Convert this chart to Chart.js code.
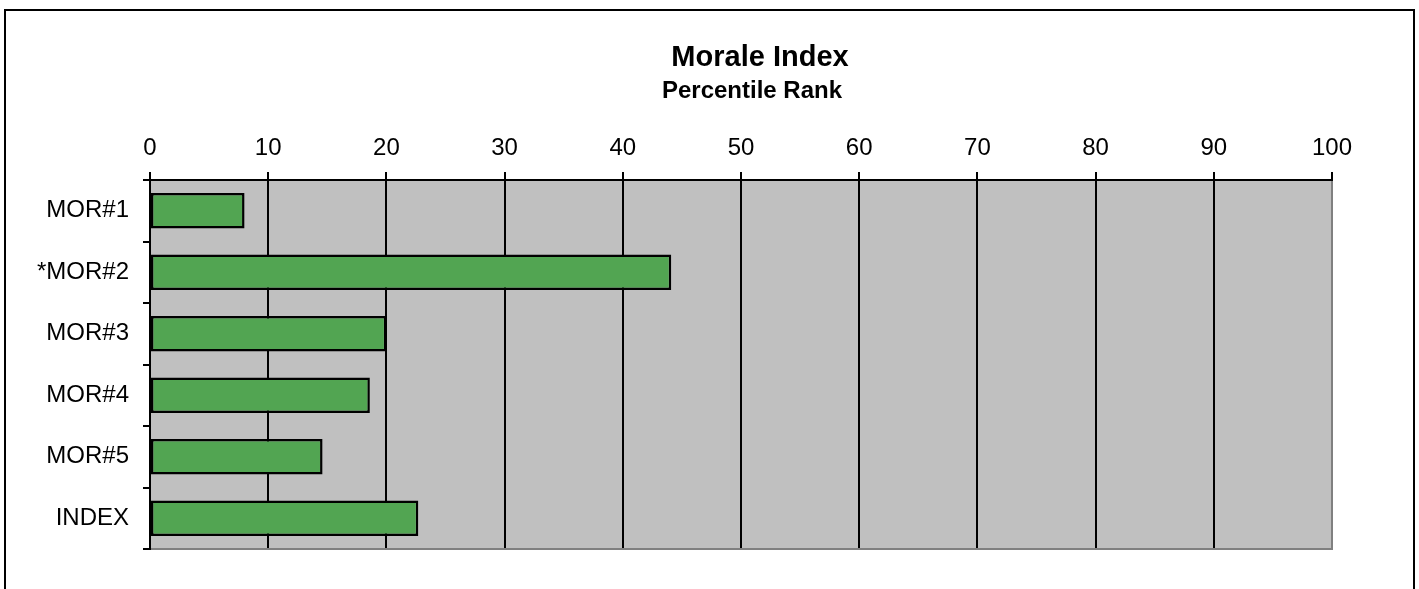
<!DOCTYPE html>
<html>
<head>
<meta charset="utf-8">
<title>Morale Index</title>
<script src="https://cdn.jsdelivr.net/npm/chart.js@4"></script>
<style>
  body { margin: 0; background: #fff; }
  canvas { display: block; }
</style>
</head>
<body>
<canvas id="myChart" width="1419" height="589"></canvas>
<script>
const categories = ["MOR#1", "*MOR#2", "MOR#3", "MOR#4", "MOR#5", "INDEX"];
const percentileRank = [8, 44.1, 20, 18.6, 14.6, 22.7];
const tickValues = [0, 10, 20, 30, 40, 50, 60, 70, 80, 90, 100];

const fontFamily = "'Liberation Sans', Arial, sans-serif";

// gray plot area, frame and titles
const decor = {
  id: "decor",
  beforeDraw(chart) {
    const c = chart.ctx, a = chart.chartArea;
    c.save();
    c.fillStyle = "#ffffff";
    c.fillRect(0, 0, chart.width, chart.height);
    c.fillStyle = "#c0c0c0";
    c.fillRect(a.left, a.top, a.right - a.left, a.bottom - a.top);
    c.restore();
  },
  afterDraw(chart) {
    const c = chart.ctx, a = chart.chartArea;
    c.save();
    // right + bottom edge of plot area
    c.strokeStyle = "#808080";
    c.lineWidth = 2;
    c.beginPath();
    c.moveTo(a.right, a.top + 1);
    c.lineTo(a.right, a.bottom);
    c.lineTo(a.left + 1, a.bottom);
    c.stroke();
    // outer frame
    c.strokeStyle = "#000";
    c.lineWidth = 2;
    c.strokeRect(5, 10, 1409, 620);
    // titles
    c.fillStyle = "#000";
    c.textAlign = "center";
    c.textBaseline = "alphabetic";
    c.font = "bold 29px " + fontFamily;
    c.fillText("Morale Index", 760, 66);
    c.font = "bold 24px " + fontFamily;
    c.fillText("Percentile Rank", 752, 98);
    c.restore();
  }
};

const ctx = document.getElementById("myChart").getContext("2d");

new Chart(ctx, {
  type: "bar",
  data: {
    labels: categories,
    datasets: [{
      data: percentileRank,
      backgroundColor: "#52a552",
      borderColor: "#000000",
      borderWidth: 2.5,
      borderSkipped: false,
      categoryPercentage: 1,
      barPercentage: 0.58
    }]
  },
  options: {
    indexAxis: "y",
    responsive: false,
    animation: false,
    layout: { padding: { top: 0, left: 0, right: 87, bottom: 40 } },
    plugins: {
      legend: { display: false },
      title: { display: false },
      tooltip: { enabled: false }
    },
    scales: {
      x: {
        position: "top",
        min: 0,
        max: 100,
        afterFit(scale) { scale.height = 180; },
        afterBuildTicks(scale) { scale.ticks = tickValues.map(v => ({ value: v })); },
        ticks: {
          color: "#000",
          padding: 9,
          font: { family: fontFamily, size: 24 }
        },
        grid: {
          color: "#000",
          lineWidth: 2,
          tickLength: 8
        },
        border: { color: "#000", width: 2 }
      },
      y: {
        afterFit(scale) { scale.width = 150; },
        ticks: {
          color: "#000",
          padding: 14,
          font: { family: fontFamily, size: 24 }
        },
        grid: {
          color: "#000",
          lineWidth: 2,
          tickLength: 7,
          drawOnChartArea: false
        },
        border: { color: "#000", width: 2 }
      }
    }
  },
  plugins: [decor]
});
</script>
</body>
</html>
